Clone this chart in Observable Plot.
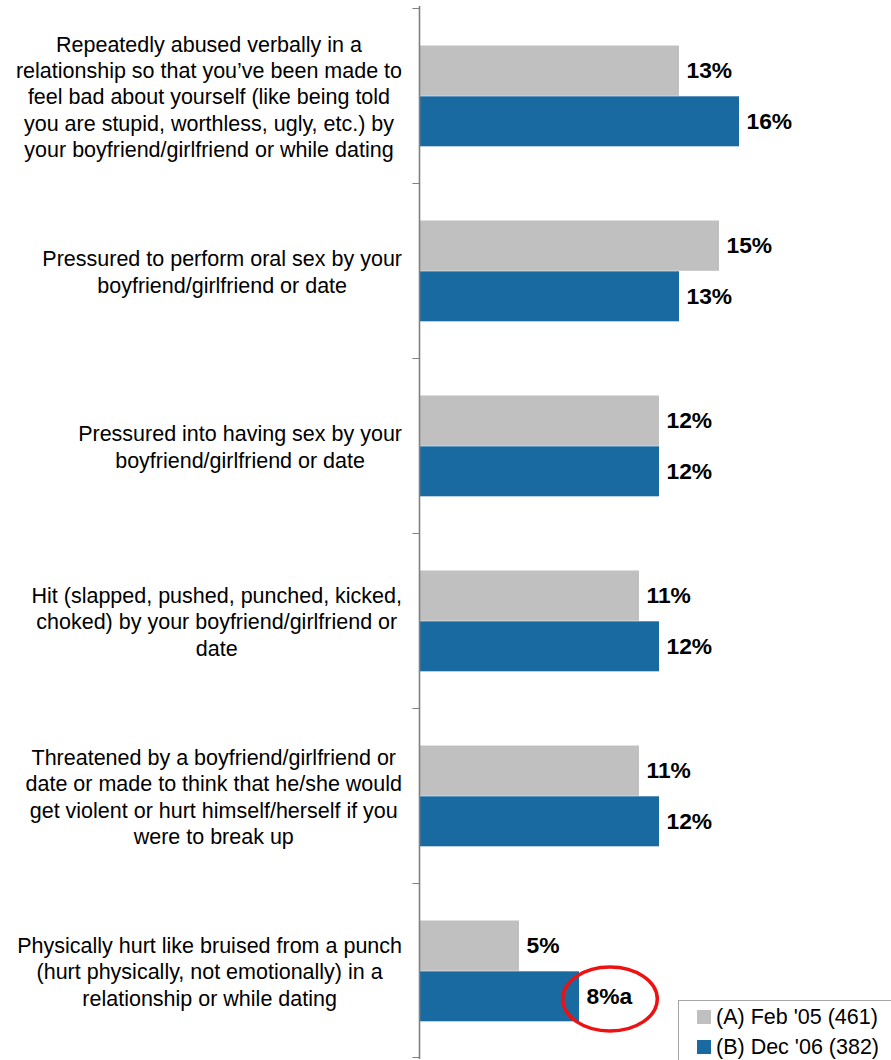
<!DOCTYPE html>
<html>
<head>
<meta charset="utf-8">
<script src="https://cdn.jsdelivr.net/npm/d3@7"></script>
<script src="https://cdn.jsdelivr.net/npm/@observablehq/plot@0.6"></script>
<style>
  html, body { margin: 0; padding: 0; background: #fff; }
  #wrap { position: relative; width: 891px; height: 1060px; overflow: hidden; font-family: "Liberation Sans", Arial, sans-serif; }
  #wrap svg { position: absolute; left: 0; top: 0; }
  #legend { position: absolute; left: 678px; top: 1000px; width: 240px; height: 80px; border: 1px solid #a6a6a6; background: #fff; box-sizing: border-box; }
  .li { position: absolute; left: 18px; height: 30px; display: flex; align-items: center; font-size: 21.5px; color: #000; white-space: nowrap; }
  .sw { width: 14px; height: 14px; margin-right: 5px; }
</style>
</head>
<body>
<div id="wrap"></div>
<script>
const categories = [
  "Repeatedly abused verbally in a\nrelationship so that you’ve been made to\nfeel bad about yourself (like being told\nyou are stupid, worthless, ugly, etc.) by\nyour boyfriend/girlfriend or while dating",
  "Pressured to perform oral sex by your\nboyfriend/girlfriend or date",
  "Pressured into having sex by your\nboyfriend/girlfriend or date",
  "Hit (slapped, pushed, punched, kicked,\nchoked) by your boyfriend/girlfriend or\ndate",
  "Threatened by a boyfriend/girlfriend or\ndate or made to think that he/she would\nget violent or hurt himself/herself if you\nwere to break up",
  "Physically hurt like bruised from a punch\n(hurt physically, not emotionally) in a\nrelationship or while dating"
];
const seriesNames = ["(A) Feb '05 (461)", "(B) Dec '06 (382)"];
const seriesColors = ["#c0c0c0", "#1a6aa2"];
const valuesA = [13, 15, 12, 11, 11, 5];
const valuesB = [16, 13, 12, 12, 12, 8];
const labelsA = ["13%", "15%", "12%", "11%", "11%", "5%"];
const labelsB = ["16%", "13%", "12%", "12%", "12%", "8%a"];
const highlight = [{cat: categories[5], value: 8}];

const rowsA = categories.map((c, i) => ({cat: c, series: seriesNames[0], value: valuesA[i], label: labelsA[i]}));
const rowsB = categories.map((c, i) => ({cat: c, series: seriesNames[1], value: valuesB[i], label: labelsB[i]}));

const FONT = '"Liberation Sans", Arial, sans-serif';
const catSize = 21.5;
const canvas = document.createElement("canvas");
const ctx = canvas.getContext("2d");
ctx.font = `${catSize}px "Liberation Sans", Arial`;
const maxW = c => Math.max(...c.split("\n").map(l => ctx.measureText(l).width));

const band = 1053 / 6;
const axisColor = "#808080";

// custom ellipse symbol
const ellipseSymbol = {
  draw(context, size) {
    const ry = Math.sqrt(size / Math.PI);
    const rx = ry * 1.478;
    const k = 0.5523;
    context.moveTo(rx, 0);
    context.bezierCurveTo(rx, ry * k, rx * k, ry, 0, ry);
    context.bezierCurveTo(-rx * k, ry, -rx, ry * k, -rx, 0);
    context.bezierCurveTo(-rx, -ry * k, -rx * k, -ry, 0, -ry);
    context.bezierCurveTo(rx * k, -ry, rx, -ry * k, rx, 0);
    context.closePath();
  }
};

const catMarks = categories.map(c => Plot.text([c], {
  x: () => 0, y: d => d, text: d => d,
  dx: -17.5 - maxW(c) / 2,
  textAnchor: "middle", lineHeight: 1.223,
  fontSize: catSize, fill: "#000"
}));

const chart = Plot.plot({
  width: 891,
  height: 1060,
  marginLeft: 419,
  marginRight: 0,
  marginTop: 6,
  marginBottom: 1,
  style: {fontFamily: FONT, background: "transparent", overflow: "visible"},
  x: {domain: [0, 23.6], axis: null},
  y: {domain: categories, padding: 0, axis: null},
  color: {domain: seriesNames, range: seriesColors},
  marks: [
    Plot.barX(rowsA, {x: "value", y: "cat", fill: "series", insetTop: 37.5, insetBottom: band - 88.3}),
    Plot.barX(rowsB, {x: "value", y: "cat", fill: "series", insetTop: 88.3, insetBottom: band - 138.8}),
    // axis tick marks at category boundaries
    Plot.barX(categories, {x1: -0.33, x2: 0, y: d => d, fill: axisColor, insetBottom: band - 1.5}),
    Plot.barX([categories[categories.length - 1]], {x1: -0.33, x2: 0, y: d => d, fill: axisColor, insetTop: band - 1.5}),
    Plot.ruleX([0], {stroke: axisColor, strokeWidth: 1.6}),
    Plot.text(rowsA, {x: "value", y: "cat", text: "label", dx: 7, dy: -24.8, textAnchor: "start", fontWeight: "bold", fontSize: 22.8, fill: "#000"}),
    Plot.text(rowsB, {x: "value", y: "cat", text: "label", dx: 7, dy: 25.8, textAnchor: "start", fontWeight: "bold", fontSize: 22.8, fill: "#000"}),
    Plot.dot(highlight, {x: "value", y: "cat", dx: 30.5, dy: 28, r: 32, symbol: ellipseSymbol, stroke: "#ee1111", strokeWidth: 3.5, fill: "none"}),
    ...catMarks
  ]
});

const wrap = document.getElementById("wrap");
wrap.appendChild(chart);

const legend = document.createElement("div");
legend.id = "legend";
seriesNames.forEach((name, i) => {
  const item = document.createElement("div");
  item.className = "li";
  item.style.top = (1 + i * 30) + "px";
  const sw = document.createElement("span");
  sw.className = "sw";
  sw.style.background = seriesColors[i];
  const tx = document.createElement("span");
  tx.textContent = name;
  item.appendChild(sw);
  item.appendChild(tx);
  legend.appendChild(item);
});
wrap.appendChild(legend);
</script>
</body>
</html>
